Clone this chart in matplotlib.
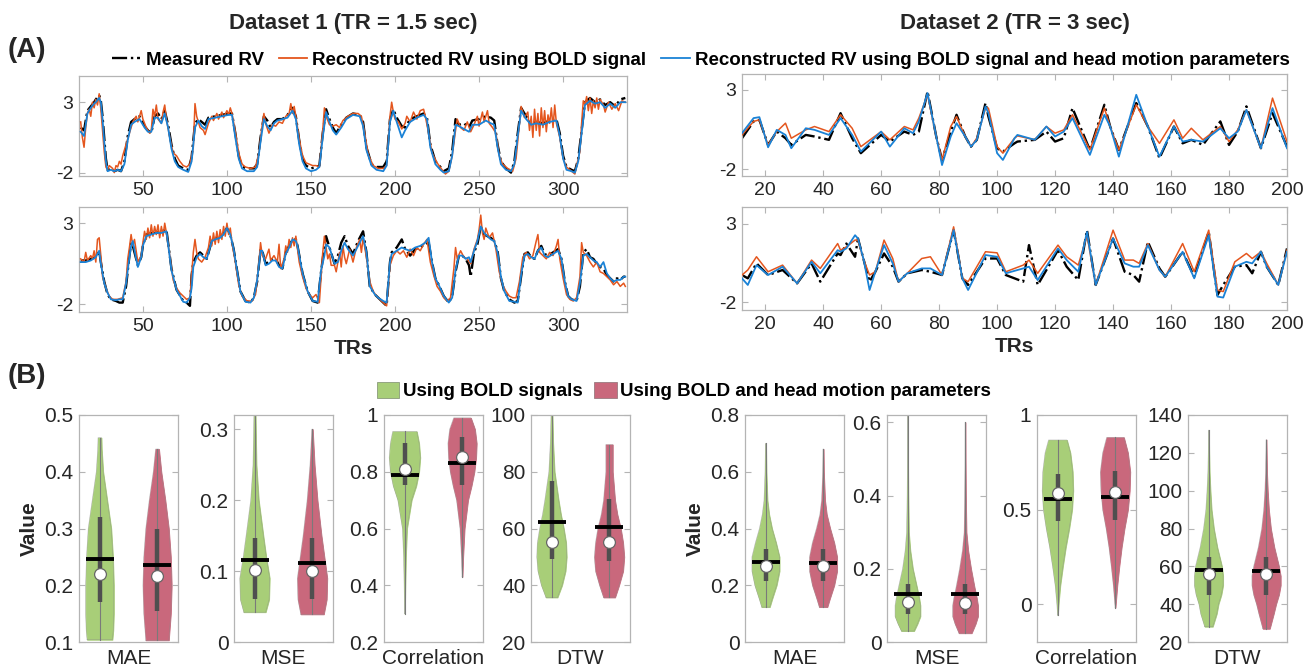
import numpy as np
import matplotlib
matplotlib.use("Agg")
import matplotlib.pyplot as plt
from matplotlib.lines import Line2D
from matplotlib.patches import Patch

plt.rcParams['font.family'] = ['Liberation Sans', 'DejaVu Sans']

#======================================================================#
## colours
c_meas = 'black'
c_bold = '#E4561E'
c_hm = '#1A82D6'
c_green = '#A8CE78'
c_red = '#C9687C'
c_axis = '#B4B4B4'
c_text = '#262626'

#======================================================================#
## Dataset 1, run 1: (TR, measured RV, reconstructed with BOLD + head motion)
d1_run1 = [
    (13, 1.2, 0.9), (15, 1.0, 0.6), (17, 2.4, 2.2), (19, 2.7, 2.6), (21, 3.0, 2.9),
    (22, 3.2, 3.0), (24, 3.5, 3.3), (25, 3.1, 3.0), (26, 2.0, 1.8), (27, 0.5, 0.2),
    (28, -1.0, -1.2), (29, -1.8, -1.9), (31, -1.7, -1.8), (33, -1.9, -1.9), (35, -1.8, -1.8),
    (37, -1.9, -1.9), (39, -1.2, -1.4), (41, 0.6, 0.3), (43, 1.6, 1.4), (45, 1.8, 1.6),
    (48, 2.0, 1.8), (51, 1.3, 1.2), (53, 1.0, 0.9), (55, 0.8, 0.9), (57, 2.0, 1.9),
    (59, 2.2, 1.9), (61, 1.8, 1.5), (63, 2.4, 2.2), (65, 1.4, 1.2), (67, 0.0, -0.3),
    (69, -1.0, -1.2), (71, -1.5, -1.6), (74, -1.7, -1.8), (77, -1.8, -1.95), (79, -0.9, -1.2),
    (81, 1.5, 1.2), (83, 1.8, 1.7), (85, 1.6, 1.3), (87, 1.4, 1.1), (89, 1.9, 1.8),
    (93, 2.0, 1.9), (97, 2.1, 2.0), (101, 2.2, 2.1), (103, 2.2, 2.1), (105, 0.8, 0.5),
    (107, -0.8, -1.0), (109, -1.6, -1.7), (112, -1.7, -1.9), (116, -1.7, -1.9), (118, -1.4, -1.6),
    (120, 0.5, 0.2), (122, 2.0, 1.8), (124, 1.7, 1.3), (126, 1.2, 1.0), (128, 1.6, 1.5),
    (130, 1.8, 1.7), (133, 1.8, 1.8), (136, 2.1, 1.9), (139, 2.6, 2.4), (141, 2.0, 1.8),
    (143, 0.3, 0.0), (145, -1.0, -1.2), (147, -1.5, -1.7), (150, -1.7, -1.9), (153, -1.6, -1.8),
    (155, -1.5, -1.6), (157, 0.8, 0.5), (159, 2.5, 2.3), (161, 1.8, 1.6), (163, 1.2, 1.0),
    (165, 0.8, 0.7), (168, 1.4, 1.2), (171, 1.9, 1.8), (175, 2.2, 2.1), (179, 2.1, 2.0),
    (181, 1.6, 1.3), (183, -0.2, -0.4), (186, -1.4, -1.5), (189, -1.6, -1.8), (193, -1.6, -1.9),
    (195, -1.2, -1.5), (197, 1.8, 1.6), (199, 2.5, 2.4), (201, 1.9, 1.6), (204, 1.3, 0.5),
    (206, 1.2, 1.0), (209, 1.8, 1.6), (213, 2.0, 1.9), (217, 2.2, 2.1), (219, 1.9, 1.8),
    (221, 0.0, -0.2), (224, -1.2, -1.4), (227, -1.6, -1.8), (229, -1.9, -2.0), (232, -1.7, -1.9),
    (234, -0.5, -0.8), (236, 1.8, 1.4), (238, 1.4, 1.3), (241, 1.5, 1.1), (244, 1.2, 0.9),
    (246, 1.7, 1.4), (250, 1.8, 1.4), (254, 2.0, 1.7), (257, 1.9, 1.5), (259, 1.7, 1.4),
    (261, 0.0, -0.2), (263, -1.2, -1.4), (266, -1.7, -1.8), (269, -2.0, -1.9), (271, -1.2, -1.4),
    (273, 0.8, 0.6), (275, 2.6, 2.4), (278, 2.0, 1.8), (281, 1.5, 1.4), (284, 1.6, 1.5),
    (288, 1.5, 1.4), (292, 1.7, 1.6), (296, 1.8, 1.7), (298, 0.8, 0.6), (300, -0.8, -1.0),
    (302, -1.6, -1.8), (305, -1.8, -1.9), (307, -1.9, -2.0), (309, -1.0, -1.2), (311, 1.0, 0.8),
    (313, 3.0, 2.8), (316, 3.3, 3.1), (319, 3.0, 2.9), (322, 3.2, 3.0), (325, 2.8, 2.6),
    (328, 3.0, 2.9), (331, 2.7, 2.6), (334, 3.2, 3.0), (337, 3.3, 3.0),
]
## Dataset 1, run 1: (TR, reconstructed with BOLD only)
d1_run1_bold = [
    (13, 1.6), (14, 0.5), (15, -0.2), (16, 1.2), (17, 2.2), (18, 2.5), (19, 2.0), (20, 3.0),
    (21, 2.6), (22, 3.2), (23, 2.8), (24, 3.6), (25, 2.5), (26, 1.0), (27, -0.5), (28, -1.6),
    (29, -1.8), (30, -1.5), (31, -1.6), (32, -1.7), (33, -2.0), (34, -1.5), (35, -1.6), (36, -1.2),
    (37, -1.4), (38, -0.8), (40, 0.0), (42, 0.8), (44, 1.6), (46, 2.0), (47, 1.6), (49, 2.4),
    (50, 1.8), (52, 1.2), (54, 0.8), (55, 1.0), (56, 2.5), (57, 2.0), (58, 2.8), (59, 1.8),
    (61, 1.5), (62, 2.3), (63, 2.8), (64, 1.8), (66, 0.5), (68, -0.6), (70, -0.8), (72, -1.2),
    (74, -1.5), (76, -1.6), (78, -1.4), (80, -0.2), (81, 2.9), (82, 2.0), (84, 1.2), (86, 1.0),
    (87, 0.7), (89, 1.5), (91, 2.0), (92, 1.7), (94, 2.2), (95, 1.8), (97, 2.3), (98, 1.9),
    (100, 2.4), (101, 2.1), (102, 2.6), (103, 2.2), (105, 0.9), (107, -0.6), (109, -1.4), (111, -1.6),
    (114, -1.7), (117, -1.6), (119, -0.6), (121, 1.4), (122, 2.2), (123, 1.5), (125, 0.8), (127, 1.4),
    (129, 1.3), (131, 1.6), (133, 1.5), (135, 2.0), (137, 2.2), (138, 2.9), (139, 2.2), (140, 2.7),
    (141, 2.0), (143, 0.4), (145, -0.8), (147, -1.3), (149, -1.4), (151, -1.5), (153, -1.5), (155, -1.6),
    (157, 1.0), (158, 2.6), (159, 2.0), (161, 1.4), (163, 1.3), (165, 1.4), (167, 1.2), (169, 1.7),
    (172, 2.0), (175, 2.2), (178, 2.2), (180, 2.0), (182, 0.8), (184, -0.7), (187, -1.5), (190, -1.7),
    (193, -1.7), (195, -1.5), (197, 2.0), (198, 3.0), (199, 2.3), (200, 1.8), (202, 1.6), (204, 1.1),
    (206, 1.5), (207, 2.0), (209, 1.6), (211, 2.3), (213, 1.8), (215, 2.4), (217, 2.5), (218, 2.0),
    (220, 0.8), (222, -0.6), (225, -1.3), (228, -1.8), (230, -2.1), (232, -1.9), (234, -0.8), (236, 1.0),
    (237, 1.8), (239, 1.2), (241, 1.0), (243, 1.6), (245, 0.9), (247, 1.4), (249, 2.0), (250, 1.3),
    (252, 2.3), (253, 1.6), (255, 2.4), (256, 1.5), (258, 1.2), (260, 0.8), (262, -0.8), (264, -1.4),
    (267, -1.7), (270, -1.9), (272, -1.0), (274, 1.5), (275, 2.7), (277, 1.9), (279, 2.3), (280, 1.0),
    (281, 2.0), (282, 0.5), (283, 2.5), (284, 1.0), (285, 2.2), (286, 0.6), (287, 2.6), (288, 1.2),
    (289, 2.4), (290, 0.9), (291, 2.1), (292, 1.5), (293, 2.6), (294, 1.2), (295, 2.8), (296, 1.5),
    (298, 0.5), (300, -1.0), (302, -1.6), (304, -1.8), (306, -2.0), (307, -2.1), (308, -1.5), (310, -0.5),
    (311, 1.5), (312, 3.1), (313, 2.8), (314, 3.4), (315, 2.4), (316, 3.3), (317, 2.2), (318, 3.1),
    (319, 2.6), (320, 3.3), (321, 2.5), (322, 3.2), (324, 2.8), (325, 2.3), (327, 3.0), (329, 2.5),
    (331, 2.9), (333, 2.4), (335, 3.1), (337, 3.0),
]

## Dataset 1, run 2: (TR, measured RV, reconstructed with BOLD + head motion)
d1_run2 = [
    (13, 0.7, 0.6), (16, 0.7, 0.6), (19, 0.8, 0.7), (22, 0.9, 0.9), (24, 1.3, 1.3),
    (25, 0.6, 0.5), (27, -0.6, -0.7), (29, -1.4, -1.3), (31, -1.7, -1.7), (34, -1.8, -1.75),
    (36, -1.9, -1.7), (38, -1.9, -1.7), (40, -0.9, -0.7), (42, 1.0, 0.9), (43, 1.8, 1.6),
    (44, 1.6, 1.9), (46, 0.8, 0.8), (47, 0.4, 0.3), (49, 0.9, 0.9), (50, 1.6, 1.6),
    (52, 2.3, 2.2), (55, 2.4, 2.3), (58, 2.4, 2.4), (61, 2.5, 2.4), (64, 2.6, 2.5),
    (65, 1.8, 1.7), (67, 0.2, 0.1), (70, -1.1, -1.1), (74, -1.8, -1.85), (76, -1.9, -1.9),
    (78, -2.1, -1.6), (79, -0.2, -1.0), (80, 0.6, 0.3), (82, 1.0, 0.9), (84, 1.2, 1.1),
    (86, 1.0, 0.9), (88, 0.8, 0.8), (91, 1.9, 1.9), (93, 2.1, 2.0), (96, 2.1, 2.1),
    (98, 2.4, 2.3), (100, 2.7, 2.7), (102, 2.3, 2.3), (104, 1.4, 1.4), (106, 0.1, 0.1),
    (108, -1.2, -1.2), (111, -1.8, -1.85), (114, -1.9, -1.9), (116, -1.6, -1.6), (118, -0.6, -0.5),
    (120, 1.4, 1.3), (121, 1.3, 1.3), (123, 0.5, 0.4), (125, 0.6, 0.5), (127, 0.8, 0.7),
    (129, 0.8, 0.7), (131, 0.4, 0.3), (133, 0.2, 0.2), (135, 1.2, 1.1), (137, 1.6, 1.5),
    (139, 2.0, 2.0), (141, 2.0, 1.9), (142, 1.6, 1.6), (145, -0.1, -0.1), (148, -1.2, -1.2),
    (151, -1.8, -1.8), (154, -1.9, -1.85), (156, 0.0, 0.1), (158, 1.6, 1.0), (159, 2.2, 1.7),
    (161, 1.5, 1.5), (164, 0.5, 0.5), (166, 1.0, 0.6), (168, 1.8, 1.3), (170, 2.2, 1.8),
    (172, 1.6, 1.4), (175, 1.1, 1.0), (178, 1.9, 1.6), (181, 2.5, 2.2), (183, 1.2, 1.2),
    (185, -0.9, -0.9), (188, -1.4, -1.4), (190, -1.6, -1.6), (193, -1.9, -1.8), (195, -2.1, -1.9),
    (197, 0.6, 0.6), (198, 1.2, 1.1), (201, 1.5, 1.3), (204, 2.0, 1.5), (206, 1.4, 1.4),
    (209, 1.0, 1.3), (212, 1.4, 1.5), (215, 1.5, 1.6), (218, 1.7, 1.8), (220, 1.8, 2.1),
    (222, 0.6, 0.6), (224, -0.4, -0.4), (226, -0.8, -0.8), (229, -1.5, -1.5), (232, -1.9, -1.9),
    (234, -1.5, -1.6), (236, 0.0, 0.1), (238, 1.0, 1.0), (240, 1.0, 1.0), (242, 0.8, 0.8),
    (244, 0.4, 0.9), (245, -0.3, 0.6), (247, 1.2, 1.3), (249, 1.7, 1.9), (251, 2.8, 2.8),
    (253, 2.3, 2.4), (255, 2.2, 2.2), (257, 2.1, 2.0), (259, 1.9, 1.9), (261, 1.3, 1.2),
    (263, -0.4, -0.3), (265, -1.2, -1.2), (268, -1.7, -1.8), (271, -1.9, -1.85), (273, -1.8, -1.9),
    (275, -0.3, -0.2), (277, 1.1, 1.0), (279, 1.2, 1.1), (281, 0.9, 0.9), (283, 0.8, 0.8),
    (285, 1.3, 1.3), (287, 1.6, 1.5), (289, 1.1, 1.0), (291, 1.0, 0.9), (294, 1.2, 1.1),
    (297, 1.4, 1.3), (299, 0.8, 0.8), (301, -0.6, -0.6), (303, -1.5, -1.5), (305, -1.7, -1.7),
    (308, -1.8, -1.8), (310, -0.9, -0.7), (312, 1.2, 1.0), (314, 1.4, 1.1), (316, 0.9, 0.9),
    (318, 0.8, 0.7), (320, 0.5, 0.6), (322, 0.3, 0.3), (324, 0.2, 0.6), (326, -0.2, -0.1),
    (328, -0.4, -0.4), (330, -0.6, -0.6), (332, -0.4, -0.5), (334, -0.5, -0.5), (336, -0.3, -0.3),
    (337, -0.3, -0.3),
]
## Dataset 1, run 2: (TR, reconstructed with BOLD only)
d1_run2_bold = [
    (13, 0.8), (15, 0.6), (16, 1.2), (17, 0.7), (19, 1.0), (20, 0.8), (21, 1.3), (22, 0.6),
    (23, 2.0), (24, 2.1), (25, 1.0), (26, -0.3), (28, -1.0), (30, -1.5), (32, -1.7), (35, -1.7),
    (38, -1.6), (40, -0.6), (41, 0.8), (42, 1.5), (43, 2.3), (44, 1.6), (45, 2.0), (47, 0.6),
    (49, 1.0), (50, 1.8), (51, 2.5), (52, 2.0), (53, 2.7), (54, 2.1), (55, 2.9), (56, 2.2),
    (57, 2.8), (58, 2.3), (59, 2.9), (60, 2.1), (61, 2.8), (62, 2.2), (63, 3.0), (64, 2.4),
    (66, 1.0), (68, -0.5), (70, -1.0), (72, -1.3), (74, -1.5), (76, -1.7), (78, -1.6), (80, 1.2),
    (81, 2.0), (82, 1.2), (83, 0.8), (85, 0.6), (87, 0.9), (89, 1.5), (90, 2.2), (91, 1.6),
    (92, 2.4), (93, 1.7), (94, 2.5), (95, 1.8), (96, 2.6), (97, 2.0), (98, 2.8), (99, 2.2),
    (100, 3.0), (101, 2.3), (102, 2.7), (103, 1.8), (105, 0.6), (107, -0.8), (109, -1.5), (112, -1.8),
    (115, -1.8), (117, -1.4), (119, 0.5), (120, 1.8), (121, 1.0), (123, 0.8), (125, 1.4), (126, 0.7),
    (128, 1.0), (130, 0.6), (131, 1.7), (132, 0.2), (134, 0.8), (135, 1.6), (136, 1.2), (137, 2.0),
    (138, 1.5), (139, 2.1), (140, 1.6), (141, 2.2), (143, 0.6), (145, -0.3), (147, -1.0), (149, -1.4),
    (151, -1.6), (153, -1.4), (155, -1.9), (157, 1.2), (158, 2.2), (159, 1.5), (160, 0.8), (161, 1.1),
    (162, 0.4), (164, 0.4), (165, 0.0), (167, 1.2), (168, 0.3), (169, 1.6), (170, 0.9), (171, 0.5),
    (173, 1.4), (175, 0.6), (177, 1.5), (179, 2.0), (180, 1.2), (181, 2.1), (183, 0.9), (185, -0.6),
    (187, -1.2), (189, -1.5), (191, -1.7), (193, -1.9), (195, -2.1), (197, 0.4), (199, 1.0), (201, 1.3),
    (203, 1.1), (205, 1.3), (207, 0.9), (209, 1.4), (211, 1.0), (213, 1.5), (215, 1.3), (217, 1.7),
    (219, 2.0), (221, 0.6), (223, -0.2), (225, -0.9), (227, -1.2), (229, -1.6), (231, -1.8), (233, -1.6),
    (235, 0.2), (236, 1.5), (237, 0.8), (239, 1.3), (241, 0.9), (243, 0.8), (245, 0.5), (247, 1.4),
    (249, 2.0), (250, 2.6), (251, 3.5), (252, 2.4), (253, 2.0), (254, 2.7), (256, 2.1), (258, 2.4),
    (260, 1.4), (262, 0.0), (264, -0.8), (266, -1.2), (268, -1.5), (270, -1.6), (272, -1.6), (274, -0.6),
    (276, 0.9), (278, 1.2), (280, 0.8), (282, 1.0), (284, 1.9), (285, 2.3), (286, 1.2), (288, 1.0),
    (290, 0.8), (292, 1.2), (294, 1.0), (296, 1.6), (297, 2.0), (298, 0.8), (300, -0.4), (302, -1.4),
    (304, -1.7), (306, -1.8), (308, -1.6), (310, -0.3), (311, 1.8), (312, 1.2), (314, 1.0), (316, 0.6),
    (318, 0.3), (320, 0.6), (322, 0.0), (324, -0.1), (326, -0.3), (328, -0.5), (330, -0.8), (332, -0.6),
    (334, -0.9), (336, -0.7), (337, -0.9),
]

## Dataset 2, run 1
d2_run1_tr = [12, 16, 18, 21, 24, 27, 29, 34, 37, 42, 46, 50, 53, 60, 63, 68, 71, 73, 76, 79,
              81, 84, 86, 89, 91, 93, 96, 97, 100, 102, 106, 107, 113, 117, 120, 123, 126, 132, 137, 139,
              142, 148, 152, 156, 161, 164, 167, 171, 177, 180, 183, 186, 191, 195, 200]
d2_run1_meas = [-0.06, 1.0, 1.10, -0.48, 0.36, -0.06, -0.48, 0.15, 0.05, -0.16, 1.52, -0.06, -1.0, 0.15,
                -0.27, 0.36, 0.15, 0.36, 2.89, 0.05, -1.43, 0.36, 1.42, 0.05, -0.59, -0.16, 2.16, 1.31,
                -0.69, -0.90, -0.38, -0.27, -0.16, 0.36, -0.27, -0.06, 1.84, -0.80, 2.05, 0.68, -0.80,
                2.16, 0.68, -1.32, 0.68, -0.38, -0.16, -0.48, 1.0, -0.48, 0.36, 1.95, -0.69, 1.52, -0.59]
d2_run1_bold = [0.15, 1.0, 1.10, -0.48, 0.36, 0.89, -0.06, 0.47, 0.68, 0.36, 1.42, 0.57, -0.59, 0.36,
                -0.16, 0.68, 0.47, 1.21, 2.68, 0.05, -1.43, 0.68, 1.31, 0.05, -0.59, -0.06, 1.84, 1.84,
                -0.59, -1.0, -0.06, 0.09, -0.16, 0.68, 0.26, 0.47, 1.42, -0.80, 1.84, 0.68, -0.80,
                2.05, 0.68, -0.38, 1.10, -0.06, 0.57, -0.16, 0.68, -0.27, 0.47, 1.73, -0.69, 2.47, -0.27]
d2_run1_hm = [0.26, 1.21, 1.27, -0.63, 0.47, 0.15, -0.69, 0.57, 0.47, 0.15, 1.21, 0.15, -0.90, 0.36,
              -0.59, 0.57, 0.26, 1.0, 2.79, 0.05, -1.75, 0.05, 0.89, 0.05, -0.59, -0.16, 1.95, 1.52,
              -1.0, -1.43, -0.06, 0.15, -0.16, 0.68, 0.05, 0.36, 1.21, -1.11, 1.42, 0.68, -1.22,
              2.68, 0.68, -1.22, 0.68, -0.27, -0.16, -0.27, 0.57, -0.06, 0.36, 1.73, -0.69, 1.84, -0.69]

## Dataset 2, run 2
d2_run2_tr = [12, 14, 17, 21, 26, 31, 36, 39, 45, 46, 48, 51, 52, 54, 56, 58, 61, 64, 66, 69,
              74, 77, 81, 85, 88, 90, 96, 100, 103, 109, 111, 114, 121, 124, 128, 131, 134, 140, 144, 147,
              149, 152, 156, 158, 164, 168, 173, 176, 178, 182, 186, 188, 191, 193, 197, 200]
d2_run2_meas = [-0.27, -0.48, 0.47, -0.27, 0.05, -0.80, 0.47, -0.69, 1.10, 1.0, 1.73, 0.89, 2.05, 0.68,
                -0.69, -0.06, 1.10, 0.26, -0.69, -0.16, 0.05, -0.06, -0.27, 2.58, -0.48, -0.90, 0.78, 0.78,
                -0.27, -0.69, 1.63, -0.90, 1.31, 0.26, -0.59, 2.58, -0.90, 2.05, -0.06, -0.27, -0.69, 1.84,
                0.15, -0.38, 1.21, -0.38, 2.47, -1.54, -0.90, 0.26, 0.36, -0.16, 1.21, 0.26, -0.90, 1.42]
d2_run2_bold = [-0.27, 0.05, 0.89, -0.06, 0.36, -0.80, 0.68, 0.15, 1.73, 1.31, 1.52, 1.95, 1.95, 0.68,
                -0.27, -0.06, 1.95, 0.78, -0.69, -0.16, 0.78, 0.89, -0.27, 2.79, -0.48, -0.69, 1.21, 1.14,
                -0.06, 0.36, 0.68, -0.16, 1.63, 0.89, 0.36, 2.26, -0.90, 2.58, 0.68, 0.68, 0.47, 1.73,
                0.05, -0.38, 1.73, -0.06, 2.58, -1.22, -1.32, 0.57, 1.10, 0.78, 1.21, 0.47, -0.90, 1.31]
d2_run2_hm = [-0.48, -0.90, 0.36, -0.27, 0.26, -0.80, 0.57, -0.16, 1.31, 1.21, 1.42, 2.26, 2.05, 0.68,
              -1.22, -0.06, 1.63, 0.47, -0.69, -0.16, 0.15, 0.15, -0.27, 2.58, -0.48, -1.22, 1.0, 0.89,
              -0.16, 0.15, 0.26, -0.59, 1.42, 0.68, -0.06, 2.47, -0.90, 2.05, 0.47, 0.26, 0.26, 1.63,
              0.05, -0.38, 1.21, -0.48, 2.26, -1.64, -1.70, 0.26, 0.57, 0.47, 1.21, 0.26, -0.90, 1.21]

#======================================================================#
## violin outlines: list of (value, half width), one per group
metrics = ['MAE', 'MSE', 'Correlation', 'DTW']

d1_shape_bold = {
    'MAE': [(0.104, 0.22), (0.12, 0.235), (0.15, 0.245), (0.2, 0.245), (0.25, 0.23), (0.3, 0.2),
            (0.35, 0.13), (0.4, 0.06), (0.44, 0.035), (0.46, 0.03)],
    'MSE': [(0.042, 0.19), (0.06, 0.25), (0.09, 0.26), (0.12, 0.2), (0.15, 0.15), (0.2, 0.07),
            (0.25, 0.03), (0.34, 0.01)],
    'Correlation': [(0.30, 0.003), (0.4, 0.01), (0.5, 0.02), (0.6, 0.04), (0.7, 0.12), (0.75, 0.2),
                    (0.8, 0.25), (0.85, 0.27), (0.9, 0.25), (0.942, 0.21)],
    'DTW': [(35.7, 0.1), (40, 0.18), (45, 0.24), (50, 0.26), (55, 0.25), (60, 0.21), (65, 0.16),
            (70, 0.12), (80, 0.05), (90, 0.025), (102, 0.01)],
}
d1_shape_hm = {
    'MAE': [(0.103, 0.2), (0.15, 0.235), (0.2, 0.25), (0.25, 0.235), (0.3, 0.2), (0.35, 0.14),
            (0.4, 0.07), (0.44, 0.03)],
    'MSE': [(0.039, 0.2), (0.06, 0.25), (0.09, 0.26), (0.12, 0.21), (0.15, 0.16), (0.2, 0.09),
            (0.25, 0.04), (0.30, 0.008)],
    'Correlation': [(0.43, 0.003), (0.5, 0.015), (0.6, 0.04), (0.7, 0.1), (0.75, 0.16), (0.8, 0.21),
                    (0.85, 0.24), (0.9, 0.25), (0.95, 0.22), (0.99, 0.15)],
    'DTW': [(35.7, 0.1), (40, 0.17), (45, 0.24), (50, 0.26), (55, 0.24), (60, 0.2), (65, 0.14),
            (70, 0.1), (80, 0.06), (89.6, 0.06)],
}
d2_shape_bold = {
    'MAE': [(0.123, 0.07), (0.15, 0.11), (0.2, 0.19), (0.25, 0.24), (0.3, 0.24), (0.35, 0.18),
            (0.4, 0.11), (0.45, 0.06), (0.5, 0.03), (0.6, 0.012), (0.70, 0.005)],
    'MSE': [(0.03, 0.11), (0.05, 0.17), (0.07, 0.22), (0.1, 0.22), (0.12, 0.2), (0.15, 0.16),
            (0.2, 0.09), (0.25, 0.045), (0.3, 0.02), (0.4, 0.01), (0.5, 0.005), (0.623, 0.003)],
    'Correlation': [(-0.058, 0.003), (0.0, 0.015), (0.1, 0.045), (0.2, 0.09), (0.3, 0.14), (0.4, 0.2),
                    (0.5, 0.25), (0.6, 0.27), (0.7, 0.26), (0.8, 0.22), (0.868, 0.16)],
    'DTW': [(28.1, 0.07), (35, 0.14), (40, 0.17), (45, 0.22), (50, 0.25), (55, 0.25), (60, 0.23),
            (65, 0.19), (70, 0.15), (80, 0.09), (90, 0.05), (100, 0.03), (110, 0.015), (120, 0.008),
            (132, 0.003)],
}
d2_shape_hm = {
    'MAE': [(0.123, 0.07), (0.15, 0.11), (0.2, 0.19), (0.25, 0.24), (0.3, 0.24), (0.35, 0.19),
            (0.4, 0.12), (0.45, 0.06), (0.5, 0.03), (0.6, 0.01), (0.68, 0.005)],
    'MSE': [(0.024, 0.11), (0.05, 0.18), (0.07, 0.22), (0.1, 0.22), (0.12, 0.2), (0.15, 0.16),
            (0.2, 0.1), (0.25, 0.05), (0.3, 0.02), (0.4, 0.01), (0.5, 0.005), (0.60, 0.003)],
    'Correlation': [(-0.018, 0.003), (0.1, 0.035), (0.2, 0.07), (0.3, 0.11), (0.4, 0.16), (0.5, 0.22),
                    (0.6, 0.25), (0.7, 0.26), (0.8, 0.22), (0.882, 0.15)],
    'DTW': [(27, 0.06), (35, 0.13), (40, 0.17), (45, 0.22), (50, 0.25), (55, 0.25), (60, 0.22),
            (65, 0.18), (70, 0.14), (80, 0.08), (90, 0.045), (100, 0.025), (110, 0.012), (127, 0.003)],
}

## summary stats: (mean, median, lower box, upper box, min, max)
d1_stats_bold = {'MAE': (0.246, 0.22, 0.17, 0.32, 0.104, 0.46),
                 'MSE': (0.116, 0.101, 0.061, 0.146, 0.042, 0.34),
                 'Correlation': (0.787, 0.811, 0.755, 0.90, 0.30, 0.942),
                 'DTW': (62.4, 55.3, 49.4, 76.7, 35.7, 102)}
d1_stats_hm = {'MAE': (0.235, 0.216, 0.155, 0.30, 0.103, 0.44),
               'MSE': (0.112, 0.10, 0.061, 0.146, 0.039, 0.30),
               'Correlation': (0.832, 0.852, 0.755, 0.924, 0.43, 0.99),
               'DTW': (60.5, 55.3, 48.7, 70.4, 35.7, 89.6)}
d2_stats_bold = {'MAE': (0.282, 0.267, 0.214, 0.328, 0.123, 0.70),
                 'MSE': (0.132, 0.108, 0.076, 0.158, 0.030, 0.623),
                 'Correlation': (0.556, 0.587, 0.441, 0.688, -0.058, 0.868),
                 'DTW': (58.3, 56.0, 45, 65, 28.1, 132)}
d2_stats_hm = {'MAE': (0.279, 0.267, 0.214, 0.328, 0.123, 0.68),
               'MSE': (0.130, 0.106, 0.076, 0.158, 0.024, 0.60),
               'Correlation': (0.564, 0.591, 0.444, 0.705, -0.018, 0.882),
               'DTW': (57.4, 55.7, 45, 65, 27, 126.8)}

## axis limits / ticks of the violin panels
d1_ylim = {'MAE': (0.1, 0.5), 'MSE': (0, 0.32), 'Correlation': (0.2, 1), 'DTW': (20, 100)}
d1_yticks = {'MAE': [0.1, 0.2, 0.3, 0.4, 0.5], 'MSE': [0, 0.1, 0.2, 0.3],
             'Correlation': [0.2, 0.4, 0.6, 0.8, 1], 'DTW': [20, 40, 60, 80, 100]}
d2_ylim = {'MAE': (0, 0.8), 'MSE': (0, 0.62), 'Correlation': (-0.2, 1), 'DTW': (20, 140)}
d2_yticks = {'MAE': [0, 0.2, 0.4, 0.6, 0.8], 'MSE': [0, 0.2, 0.4, 0.6],
             'Correlation': [0, 0.5, 1], 'DTW': [20, 40, 60, 80, 100, 120, 140]}

#======================================================================#
W, H = 1313, 669
fig = plt.figure(figsize=(W / 100, H / 100), dpi=100)


def px_axes(x0, y0, x1, y1):
    # axes from pixel box (left, top, right, bottom)
    return fig.add_axes([x0 / W, 1 - y1 / H, (x1 - x0) / W, (y1 - y0) / H])


def style_axes(ax, fs=14):
    for s in ax.spines.values():
        s.set_color(c_axis)
        s.set_linewidth(0.9)
    ax.tick_params(direction='in', top=True, right=True, color=c_axis, length=4,
                   labelsize=fs, labelcolor=c_text, pad=4)


def fmt(v):
    return ('%g' % v)


def series_panel(box, tr, meas, bold_tr, bold, hm_tr, hm, xlim, xticks, ylim, xlabel=False):
    ax = px_axes(*box)
    ax.plot(tr, meas, color=c_meas, lw=1.7, ls='-.', zorder=2)
    ax.plot(bold_tr, bold, color=c_bold, lw=1.1, zorder=3)
    ax.plot(hm_tr, hm, color=c_hm, lw=1.3, zorder=4)
    ax.set_xlim(*xlim)
    ax.set_ylim(*ylim)
    ax.set_xticks(xticks)
    ax.set_yticks([-2, 3])
    ax.set_yticklabels(['-2', '3'])
    style_axes(ax, 14)
    if xlabel:
        ax.set_xlabel('TRs', fontsize=15, fontweight='bold', color=c_text, labelpad=3)
    return ax


def draw_violin(ax, pos, shape, stats, color):
    y = np.array([p[0] for p in shape])
    hw = np.array([p[1] for p in shape])
    ax.fill_betweenx(y, pos - hw, pos + hw, facecolor=color, edgecolor=color, lw=0.6, zorder=1)
    ax.plot(np.r_[pos - hw, (pos + hw)[::-1], pos - hw[0]], np.r_[y, y[::-1], y[0]],
            color='#8a8a8a', lw=0.4, alpha=0.6, zorder=1)
    mean, med, lo, hi, vmin, vmax = stats
    ax.plot([pos, pos], [vmin, vmax], color='#7a7a7a', lw=0.8, zorder=2)
    ax.plot([pos, pos], [lo, hi], color='#4f4f4f', lw=3.2, solid_capstyle='butt', zorder=3)
    ax.plot([pos - 0.24, pos + 0.24], [mean, mean], color='black', lw=2.8,
            solid_capstyle='butt', zorder=4)
    ax.plot(pos, med, 'o', ms=8.5, mfc='white', mec='#666666', mew=0.9, zorder=5)


def violin_panel(x0, metric, shape_b, shape_h, stats_b, stats_h, ylim, yticks, ylabel=False):
    ax = px_axes(x0, 415, x0 + 99, 642)
    draw_violin(ax, 1, shape_b[metric], stats_b[metric], c_green)
    draw_violin(ax, 2, shape_h[metric], stats_h[metric], c_red)
    ax.set_xlim(0.64, 2.36)
    ax.set_ylim(*ylim)
    ax.set_yticks(yticks)
    ax.set_yticklabels([fmt(v) for v in yticks])
    ax.set_xticks([1.5])
    ax.set_xticklabels([metric])
    style_axes(ax, 15)
    ax.tick_params(axis='x', length=0, pad=5)
    if ylabel:
        ax.set_ylabel('Value', fontsize=15, fontweight='bold', color=c_text, labelpad=4)
    return ax


#======================================================================#
## (A) time series
r1 = np.array(d1_run1).T
r1b = np.array(d1_run1_bold).T
r2 = np.array(d1_run2).T
r2b = np.array(d1_run2_bold).T
d1_xticks = [50, 100, 150, 200, 250, 300]
d2_xticks = [20, 40, 60, 80, 100, 120, 140, 160, 180, 200]

series_panel((79, 76, 627, 176), r1[0], r1[1], r1b[0], r1b[1], r1[0], r1[2],
             (12, 338), d1_xticks, (-2.24, 4.86))
series_panel((79, 207, 627, 312), r2[0], r2[1], r2b[0], r2b[1], r2[0], r2[2],
             (12, 338), d1_xticks, (-2.48, 4.0), xlabel=True)
series_panel((742, 74, 1287, 176), d2_run1_tr, d2_run1_meas, d2_run1_tr, d2_run1_bold,
             d2_run1_tr, d2_run1_hm, (12, 200), d2_xticks, (-2.44, 3.99))
series_panel((742, 207, 1287, 310), d2_run2_tr, d2_run2_meas, d2_run2_tr, d2_run2_bold,
             d2_run2_tr, d2_run2_hm, (12, 200), d2_xticks, (-2.49, 4.05), xlabel=True)

## (B) violins
d1_left = [79, 234, 384, 531]
d2_left = [745, 887, 1037, 1188]
for i, m in enumerate(metrics):
    violin_panel(d1_left[i], m, d1_shape_bold, d1_shape_hm, d1_stats_bold, d1_stats_hm,
                 d1_ylim[m], d1_yticks[m], ylabel=(i == 0))
    violin_panel(d2_left[i], m, d2_shape_bold, d2_shape_hm, d2_stats_bold, d2_stats_hm,
                 d2_ylim[m], d2_yticks[m], ylabel=(i == 0))

#======================================================================#
## titles, panel letters and legends
fig.text(353 / W, 1 - 23 / H, 'Dataset 1 (TR = 1.5 sec)', ha='center', va='center',
         fontsize=16, fontweight='bold', color=c_text)
fig.text(1015 / W, 1 - 23 / H, 'Dataset 2 (TR = 3 sec)', ha='center', va='center',
         fontsize=16, fontweight='bold', color=c_text)
fig.text(8 / W, 1 - 50 / H, '(A)', ha='left', va='center', fontsize=20, fontweight='bold', color=c_text)
fig.text(8 / W, 1 - 376 / H, '(B)', ha='left', va='center', fontsize=20, fontweight='bold', color=c_text)

h_lines = [Line2D([], [], color=c_meas, lw=1.7, ls='-.'),
           Line2D([], [], color=c_bold, lw=1.3),
           Line2D([], [], color=c_hm, lw=1.3)]
fig.legend(h_lines, ['Measured RV', 'Reconstructed RV using BOLD signal',
                     'Reconstructed RV using BOLD signal and head motion parameters'],
           loc='center', bbox_to_anchor=(701 / W, 1 - 60 / H), ncol=3, frameon=False,
           handlelength=1.5, handletextpad=0.3, columnspacing=0.8,
           prop={'weight': 'bold', 'size': 13.5})

h_patch = [Patch(facecolor=c_green, edgecolor='#8a9a7a', lw=0.6),
           Patch(facecolor=c_red, edgecolor='#9a7a80', lw=0.6)]
fig.legend(h_patch, ['Using BOLD signals', 'Using BOLD and head motion parameters'],
           loc='center', bbox_to_anchor=(684 / W, 1 - 391 / H), ncol=2, frameon=False,
           handlelength=1.2, handleheight=1.0, handletextpad=0.2, columnspacing=0.6,
           prop={'weight': 'bold', 'size': 13.5})

plt.savefig('out.png', dpi=100)
